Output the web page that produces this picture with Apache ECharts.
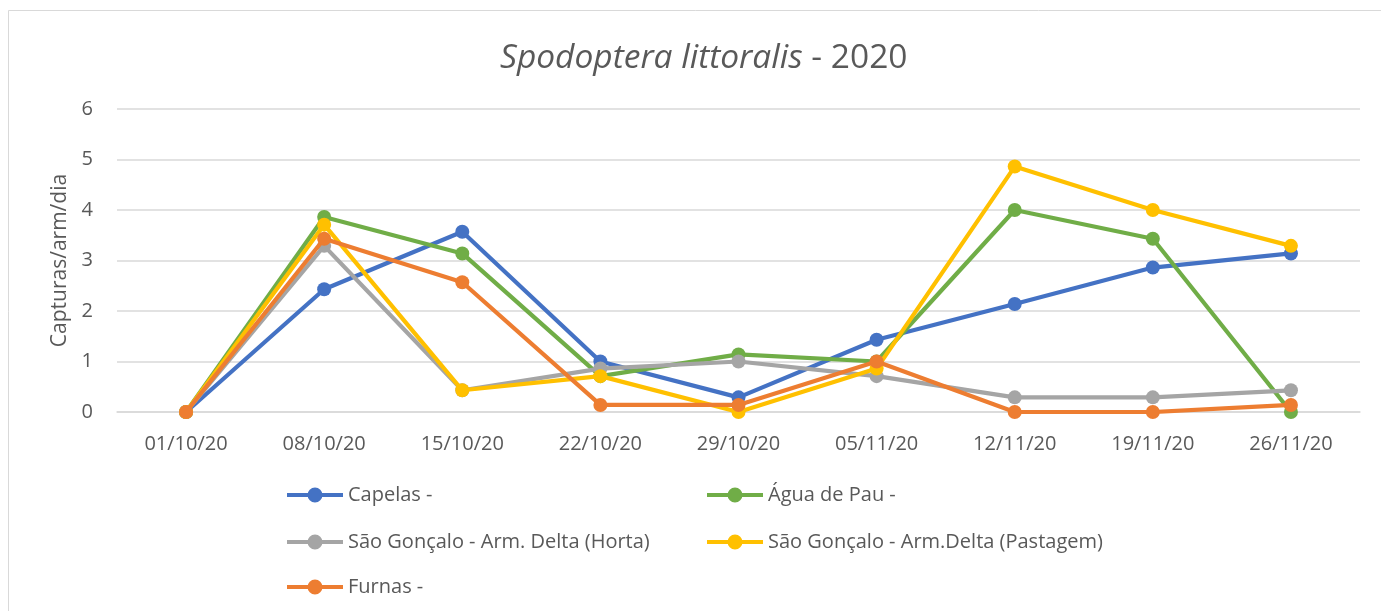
<!DOCTYPE html>
<html>
<head>
<meta charset="utf-8">
<script src="https://cdn.jsdelivr.net/npm/echarts@6/dist/echarts.min.js"></script>
<style>
html,body{margin:0;padding:0;background:#fff;}
#c{width:1381px;height:611px;}
</style>
</head>
<body>
<div id="c"></div>
<script>
const categories = ['01/10/20','08/10/20','15/10/20','22/10/20','29/10/20','05/11/20','12/11/20','19/11/20','26/11/20'];
const capelas  = [0, 2.43, 3.57, 1.00, 0.29, 1.43, 2.14, 2.86, 3.14];
const aguaPau  = [0, 3.86, 3.14, 0.71, 1.14, 1.00, 4.00, 3.43, 0.00];
const sgHorta  = [0, 3.29, 0.43, 0.86, 1.00, 0.71, 0.29, 0.29, 0.43];
const sgPast   = [0, 3.71, 0.43, 0.71, 0.00, 0.86, 4.86, 4.00, 3.29];
const furnas   = [0, 3.43, 2.57, 0.14, 0.14, 1.00, 0.00, 0.00, 0.14];
const seriesNames = ['Capelas -','Água de Pau -','São Gonçalo - Arm. Delta (Horta)','São Gonçalo - Arm.Delta (Pastagem)','Furnas -'];
const seriesData = [capelas, aguaPau, sgHorta, sgPast, furnas];
const colors = ['#4472C4','#70AD47','#A5A5A5','#FFC000','#ED7D31'];

const FONT = '"Open Sans", "Noto Sans", sans-serif';
const TXT = '#595959';
const LEGEND_ICON = 'path://M0,6H56V10H0Z M20.5,8A7.5,7.5 0 1,1 35.5,8A7.5,7.5 0 1,1 20.5,8Z';

const chart = echarts.init(document.getElementById('c'));
const legendPos = [[287,485],[707,485],[287,532],[707,532],[287,577]];
chart.setOption({
  animation:false,
  backgroundColor:'#fff',
  color: colors,
  title:{
    text:'{i|Spodoptera littoralis}{n| - 2020}',
    left:495, top:36,
    textStyle:{
      fontWeight:'normal',
      rich:{
        i:{fontFamily:FONT, fontSize:33.5, fontStyle:'italic', fontWeight:'normal', color:TXT},
        n:{fontFamily:FONT, fontSize:33.5, fontWeight:'normal', color:TXT}
      }
    }
  },
  graphic:[{type:'rect', shape:{x:8.5,y:10.5,width:1400,height:700}, style:{fill:'none', stroke:'#D9D9D9', lineWidth:1}, silent:true}],
  legend: legendPos.map((p,i)=>({
    data:[{name:seriesNames[i], icon:LEGEND_ICON, itemStyle:{color:colors[i]}}], left:p[0], top:p[1],
    itemWidth:56, itemHeight:15, itemGap:0,
    textStyle:{fontFamily:FONT, fontSize:20, color:TXT, padding:[0,0,0,0]},
    padding:0
  })),
  grid:{left:117, right:21, top:109, bottom:199, containLabel:false},
  xAxis:{
    type:'category', data:categories, boundaryGap:true,
    axisLine:{show:true, lineStyle:{color:'#D9D9D9', width:1.5}},
    axisTick:{show:false},
    axisLabel:{fontFamily:FONT, fontSize:20, color:TXT, margin:22}
  },
  yAxis:{
    type:'value', min:0, max:6, interval:1,
    name:'Capturas/arm/dia', nameLocation:'middle', nameGap:46, nameRotate:90,
    nameTextStyle:{fontFamily:FONT, fontSize:21, color:TXT},
    axisLine:{show:false}, axisTick:{show:false},
    axisLabel:{fontFamily:FONT, fontSize:20, color:TXT, margin:24},
    splitLine:{lineStyle:{color:'#D9D9D9', width:1.5}}
  },
  series: seriesData.map((d,i)=>({
    name:seriesNames[i], type:'line', data:d,
    symbol:'circle', symbolSize:14,
    lineStyle:{width:4.2, color:colors[i]},
    itemStyle:{color:colors[i]},
    z:2+i
  }))
});
</script>
</body>
</html>
